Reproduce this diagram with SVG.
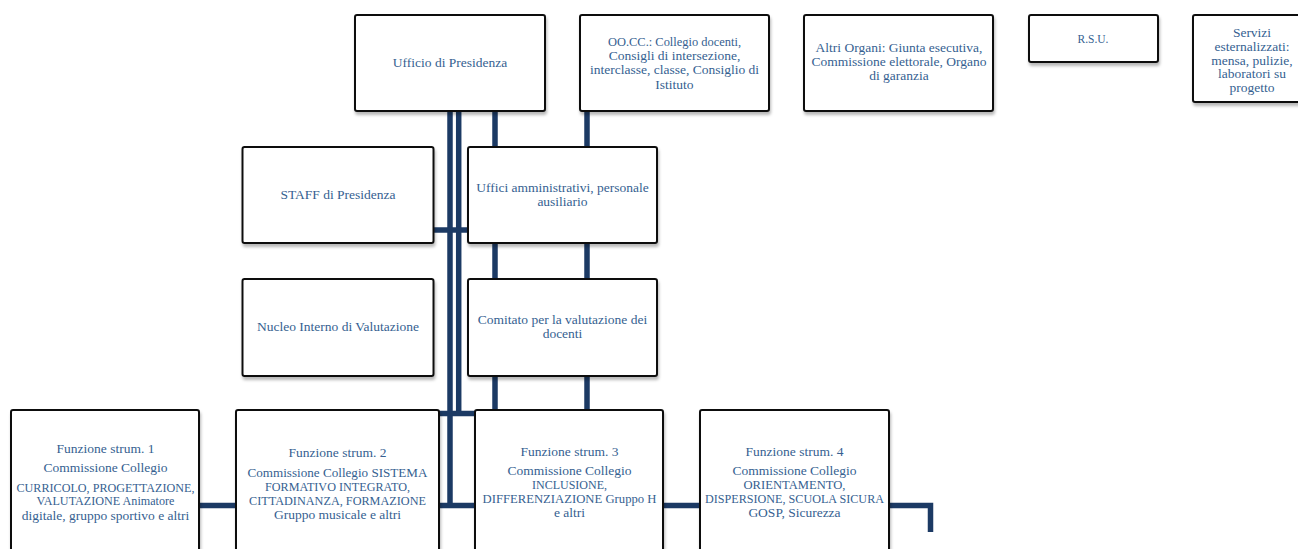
<svg xmlns="http://www.w3.org/2000/svg" width="1298" height="549" viewBox="0 0 1298 549">
<defs>
<filter id="sh" x="-10%" y="-10%" width="130%" height="130%">
<feDropShadow dx="1" dy="3" stdDeviation="1.6" flood-color="#000" flood-opacity="0.28"/>
</filter>
</defs>
<style>
.box{fill:#fff;stroke:#111;stroke-width:2;filter:url(#sh)}
.t{font-family:"Liberation Serif","Times New Roman",serif;font-size:13.5px;fill:#365F91;text-anchor:middle}
.c{stroke:#1C3A64;stroke-width:5.5;fill:none}
</style>
<rect width="1298" height="549" fill="#fff"/>
<g id="connectors">
<line class="c" x1="450" y1="111" x2="450" y2="508"/>
<line class="c" x1="458.7" y1="111" x2="458.7" y2="416"/>
<line class="c" x1="495" y1="111" x2="495" y2="147"/>
<line class="c" x1="495" y1="243" x2="495" y2="279"/>
<line class="c" x1="495" y1="376" x2="495" y2="410"/>
<line class="c" x1="587" y1="111" x2="587" y2="147"/>
<line class="c" x1="587" y1="243" x2="587" y2="279"/>
<line class="c" x1="587" y1="376" x2="587" y2="410"/>
<line class="c" x1="433" y1="230" x2="468" y2="230"/>
<line class="c" x1="439" y1="413.5" x2="475" y2="413.5"/>
<line class="c" x1="199" y1="505.5" x2="236" y2="505.5"/>
<line class="c" x1="439" y1="505.5" x2="475" y2="505.5"/>
<line class="c" x1="663" y1="505.5" x2="700" y2="505.5"/>
<polyline class="c" points="889,505.5 930.5,505.5 930.5,532"/>
</g>
<g id="presidenza">
<rect class="box" x="355" y="15" width="190" height="96" rx="2"/>
<text class="t" x="450" y="67">Ufficio di Presidenza</text>
</g>
<g id="oocc">
<rect class="box" x="580" y="15" width="189" height="96" rx="2"/>
<text class="t" x="674.5" y="45.5" textLength="133" lengthAdjust="spacingAndGlyphs">OO.CC.: Collegio docenti,</text>
<text class="t" x="674.5" y="60">Consigli di intersezione,</text>
<text class="t" x="674.5" y="74">interclasse, classe, Consiglio di</text>
<text class="t" x="674.5" y="88.5">Istituto</text>
</g>
<g id="altri">
<rect class="box" x="804" y="15" width="189" height="96" rx="2"/>
<text class="t" x="899" y="52">Altri Organi: Giunta esecutiva,</text>
<text class="t" x="899" y="66">Commissione elettorale, Organo</text>
<text class="t" x="899" y="80">di garanzia</text>
</g>
<g id="rsu">
<rect class="box" x="1029" y="15" width="129" height="47" rx="2"/>
<text class="t" x="1093" y="43" textLength="31" lengthAdjust="spacingAndGlyphs">R.S.U.</text>
</g>
<g id="servizi">
<rect class="box" x="1193" y="15" width="118" height="87" rx="2"/>
<text class="t" x="1252" y="36.5">Servizi</text>
<text class="t" x="1252" y="50.5">esternalizzati:</text>
<text class="t" x="1252" y="64.5">mensa, pulizie,</text>
<text class="t" x="1252" y="78">laboratori su</text>
<text class="t" x="1252" y="92">progetto</text>
</g>
<g id="staff">
<rect class="box" x="242.5" y="147" width="191" height="96" rx="2"/>
<text class="t" x="338" y="198.5">STAFF di Presidenza</text>
</g>
<g id="uffici">
<rect class="box" x="468" y="147" width="189" height="96" rx="2"/>
<text class="t" x="562.5" y="191.5">Uffici amministrativi, personale</text>
<text class="t" x="562.5" y="205.5">ausiliario</text>
</g>
<g id="nucleo">
<rect class="box" x="242.5" y="279" width="191" height="97" rx="2"/>
<text class="t" x="338" y="331">Nucleo Interno di Valutazione</text>
</g>
<g id="comitato">
<rect class="box" x="468" y="279" width="189" height="97" rx="2"/>
<text class="t" x="562.5" y="324">Comitato per la valutazione dei</text>
<text class="t" x="562.5" y="338">docenti</text>
</g>
<g id="funzione1">
<rect class="box" x="11" y="410" width="188" height="160" rx="2"/>
<text class="t" x="105.5" y="452.5">Funzione strum. 1</text>
<text class="t" x="105.5" y="472">Commissione Collegio</text>
<text class="t" x="105.5" y="491.5" textLength="178" lengthAdjust="spacingAndGlyphs">CURRICOLO, PROGETTAZIONE,</text>
<text class="t" x="105.5" y="505" textLength="138" lengthAdjust="spacingAndGlyphs">VALUTAZIONE  Animatore</text>
<text class="t" x="105.5" y="519.5">digitale, gruppo sportivo e altri</text>
</g>
<g id="funzione2">
<rect class="box" x="236" y="410" width="203" height="160" rx="2"/>
<text class="t" x="337.5" y="457">Funzione strum. 2</text>
<text class="t" x="337.5" y="476.5" textLength="180" lengthAdjust="spacingAndGlyphs">Commissione Collegio SISTEMA</text>
<text class="t" x="337.5" y="490.5" textLength="145" lengthAdjust="spacingAndGlyphs">FORMATIVO INTEGRATO,</text>
<text class="t" x="337.5" y="505" textLength="177" lengthAdjust="spacingAndGlyphs">CITTADINANZA, FORMAZIONE</text>
<text class="t" x="337.5" y="519">Gruppo musicale e altri</text>
</g>
<g id="funzione3">
<rect class="box" x="475" y="410" width="188" height="160" rx="2"/>
<text class="t" x="569.5" y="455.5">Funzione strum. 3</text>
<text class="t" x="569.5" y="475">Commissione Collegio</text>
<text class="t" x="569.5" y="489" textLength="75" lengthAdjust="spacingAndGlyphs">INCLUSIONE,</text>
<text class="t" x="569.5" y="503" textLength="174" lengthAdjust="spacingAndGlyphs">DIFFERENZIAZIONE Gruppo H</text>
<text class="t" x="569.5" y="517">e altri</text>
</g>
<g id="funzione4">
<rect class="box" x="700" y="410" width="189" height="160" rx="2"/>
<text class="t" x="794.5" y="455.5">Funzione strum. 4</text>
<text class="t" x="794.5" y="475">Commissione Collegio</text>
<text class="t" x="794.5" y="489" textLength="102" lengthAdjust="spacingAndGlyphs">ORIENTAMENTO,</text>
<text class="t" x="794.5" y="503" textLength="179" lengthAdjust="spacingAndGlyphs">DISPERSIONE, SCUOLA SICURA</text>
<text class="t" x="794.5" y="517">GOSP, Sicurezza</text>
</g>
</svg>
